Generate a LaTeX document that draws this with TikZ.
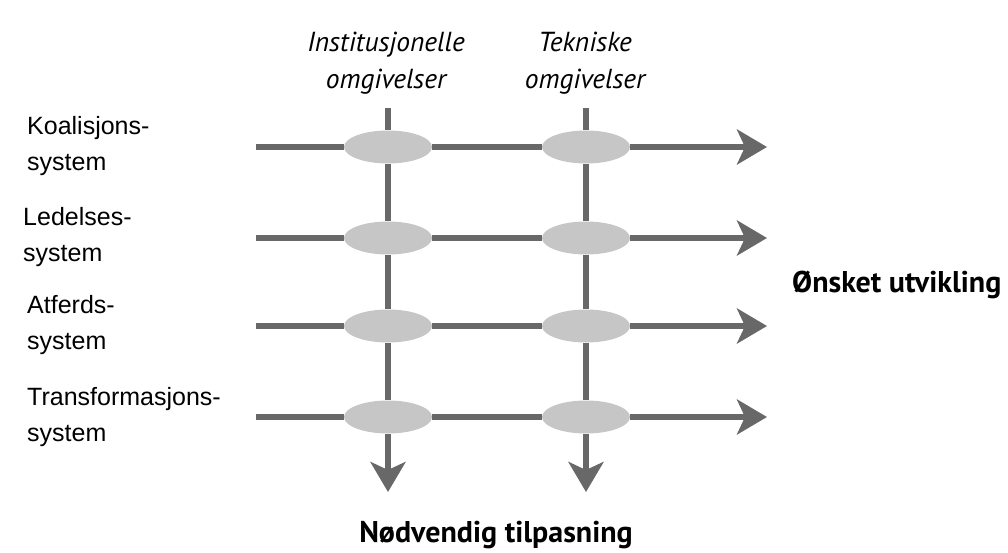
\documentclass[tikz,border=0pt]{standalone}
\usepackage{fontspec}
\setmainfont{Liberation Sans}
\newfontfamily\hfont{PT Sans}
\usetikzlibrary{shapes.geometric,arrows.meta}
\definecolor{linegray}{HTML}{686868}
\definecolor{ellgray}{HTML}{C6C6C6}
\tikzset{
  conn/.style={draw=linegray, line width=6pt},
  arr/.style={conn, -{Stealth[length=30pt,width=35pt,inset=8pt]}},
  junction/.style={ellipse, fill=ellgray, minimum width=88pt, minimum height=33pt, inner sep=0pt},
  syslabel/.style={anchor=west, align=left, inner sep=0pt, font=\fontsize{25}{36}\selectfont},
  toplabel/.style={align=center, inner sep=0pt, font=\hfont\itshape\fontsize{27.5}{37}\selectfont},
  outlabel/.style={inner sep=0pt, font=\hfont\bfseries\fontsize{30}{34}\selectfont}
}
\begin{document}
\begin{tikzpicture}[x=1pt,y=-1pt]
\useasboundingbox (0,0) rectangle (1008,553);
% columns
\coordinate (t1) at (388,108);
\coordinate (t2) at (586,108);
\coordinate (b1) at (388,492);
\coordinate (b2) at (586,492);
% rows
\foreach \r/\y in {1/147,2/238,3/326,4/417}{
  \coordinate (s\r) at (256,\y);
  \coordinate (f\r) at (767,\y);
  \node[junction] (a\r) at (388,\y) {};
  \node[junction] (c\r) at (586,\y) {};
}
% vertical connectors
\draw[conn] (t1) -- (a1) (a1) -- (a2) (a2) -- (a3) (a3) -- (a4);
\draw[arr] (a4) -- (b1);
\draw[conn] (t2) -- (c1) (c1) -- (c2) (c2) -- (c3) (c3) -- (c4);
\draw[arr] (c4) -- (b2);
% horizontal connectors
\foreach \r in {1,2,3,4}{
  \draw[conn] (s\r) -- (a\r) (a\r) -- (c\r);
  \draw[arr] (c\r) -- (f\r);
}
% labels
\node[syslabel] (l1) at (27,146) {Koalisjons-\\system};
\node[syslabel] (l2) at (23,237) {Ledelses-\\system};
\node[syslabel] (l3) at (27,325) {Atferds-\\system};
\node[syslabel] (l4) at (27,417) {Transformasjons-\\system};
\node[toplabel] (h1) at (386,63) {Institusjonelle\\omgivelser};
\node[toplabel] (h2) at (585,63) {Tekniske\\omgivelser};
\node[outlabel, anchor=west] (o1) at (792,285) {Ønsket utvikling};
\node[outlabel] (o2) at (496,535) {Nødvendig tilpasning};
\end{tikzpicture}
\end{document}
